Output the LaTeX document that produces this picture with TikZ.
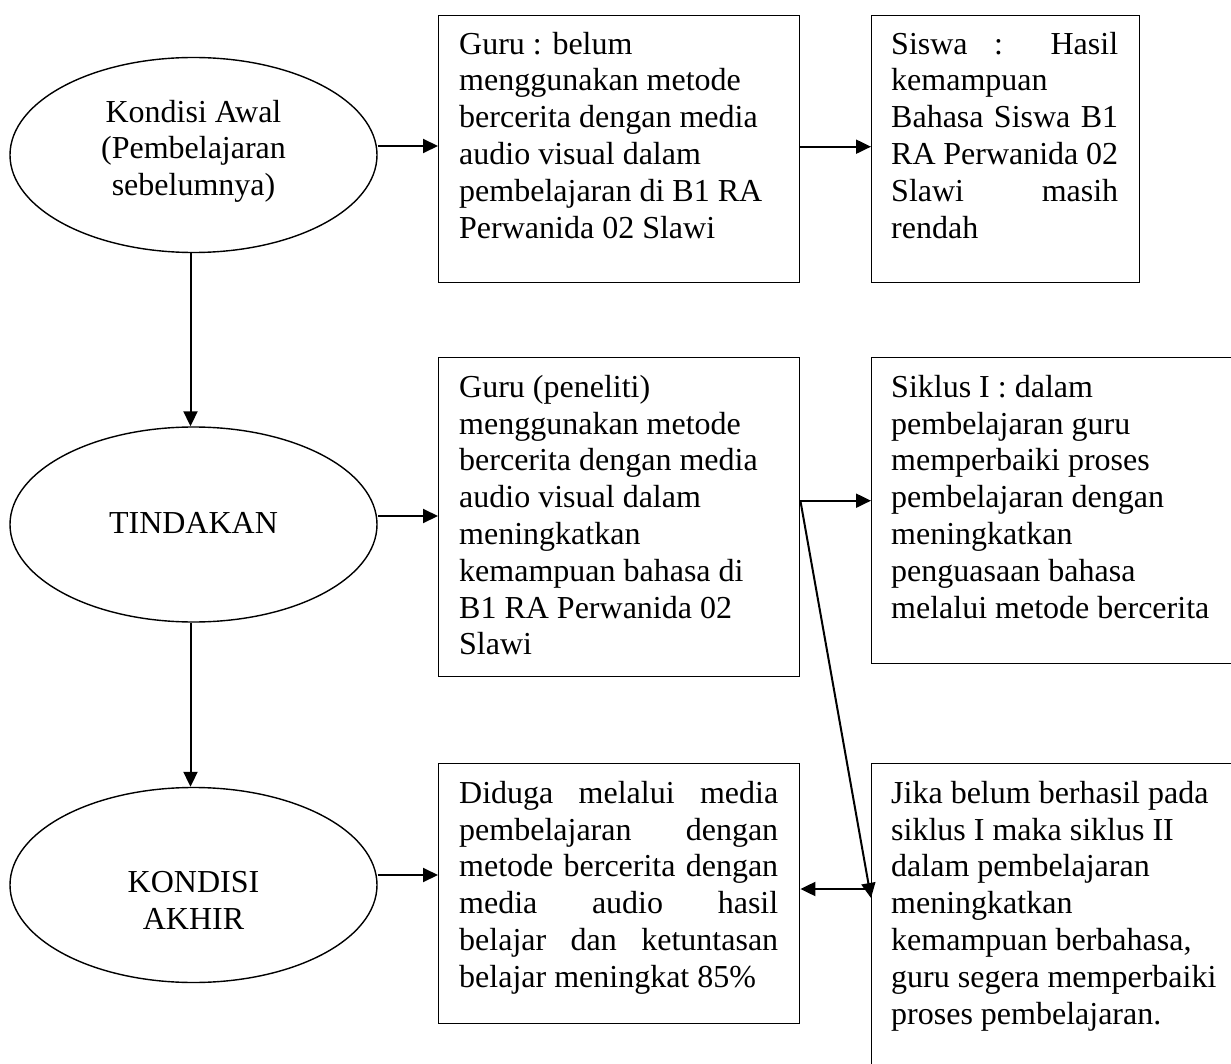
\documentclass[tikz,border=0pt]{standalone}
\usepackage{fontspec}
\setmainfont{Liberation Serif}
\usetikzlibrary{shapes.geometric,arrows.meta}
\newcommand{\jus}[2]{\makebox[#1][s]{#2}}
\newcommand{\fl}{\rule{0pt}{32pt}}
\begin{document}
\begin{tikzpicture}[x=1pt,y=-1pt,
  txt/.style={font=\fontsize{32}{36.8}\selectfont, inner sep=0pt, align=left, anchor=north west},
  ctxt/.style={font=\fontsize{32}{36.8}\selectfont, inner sep=0pt, align=center, anchor=north},
  oval/.style={draw, ellipse, line width=1.4pt, minimum width=367pt, minimum height=195pt, inner sep=0pt},
  boxn/.style={draw, rectangle, line width=1.4pt, anchor=north west, inner sep=0pt},
  arr/.style={line width=2pt, -{Triangle[length=15pt,width=14pt]}}]
\useasboundingbox (0,0) rectangle (1231,1064);
\clip (0,0) rectangle (1231,1064);
\fill[white] (0,0) rectangle (1231,1064);

% ellipses
\node[oval] (e1) at (193.5,155) {};
\node[oval] (e2) at (193.5,524.5) {};
\node[oval] (e3) at (193.5,885) {};
\node[ctxt] (te1) at (193.5,90) {\fl Kondisi Awal\\(Pembelajaran\\sebelumnya)};
\node[ctxt] (te2) at (193.5,501) {\fl TINDAKAN};
\node[ctxt] (te3) at (193.5,860) {\fl KONDISI\\AKHIR};

% boxes
\node[boxn, minimum width=361pt, minimum height=267pt] (b1) at (438,15) {};
\node[boxn, minimum width=268pt, minimum height=267pt] (b3) at (871,15) {};
\node[boxn, minimum width=361pt, minimum height=319pt] (b2) at (438,357) {};
\node[boxn, minimum width=420pt, minimum height=306pt] (b6) at (871,357) {};
\node[boxn, minimum width=361pt, minimum height=260pt] (b4) at (438,763) {};
\node[boxn, minimum width=420pt, minimum height=400pt] (b5) at (871,763) {};

% box texts
\node[txt] (t1) at (459,22) {\fl Guru : belum\\menggunakan metode\\bercerita dengan media\\audio visual dalam\\pembelajaran di B1 RA\\Perwanida 02 Slawi};
\node[txt] (t3) at (891,22) {\fl\jus{227pt}{Siswa : Hasil}\\kemampuan\\\jus{227pt}{Bahasa Siswa B1}\\\jus{227pt}{RA Perwanida 02}\\\jus{227pt}{Slawi masih}\\rendah};
\node[txt] (t2) at (459,365) {\fl Guru (peneliti)\\menggunakan metode\\bercerita dengan media\\audio visual dalam\\meningkatkan\\kemampuan bahasa di\\B1 RA Perwanida 02\\Slawi};
\node[txt] (t6) at (891,365) {\fl Siklus I : dalam\\pembelajaran guru\\memperbaiki proses\\pembelajaran dengan\\meningkatkan\\penguasaan bahasa\\melalui metode bercerita};
\node[txt] (t4) at (459,771) {\fl\jus{319pt}{Diduga melalui media}\\\jus{319pt}{pembelajaran dengan}\\\jus{319pt}{metode bercerita dengan}\\\jus{319pt}{media audio hasil}\\\jus{319pt}{belajar dan ketuntasan}\\belajar meningkat 85\%};
\node[txt] (t5) at (891,771) {\fl Jika belum berhasil pada\\siklus I maka siklus II\\dalam pembelajaran\\meningkatkan\\kemampuan berbahasa,\\guru segera memperbaiki\\proses pembelajaran.};

% connectors
\draw[arr] ([yshift=9pt]e1.east) -- ([yshift=9pt]e1.east -| b1.west);
\draw[arr] ([xshift=-3pt]e1.south) -- ([xshift=-3pt]e2.north);
\draw[arr] ([yshift=8.5pt]e2.east) -- ([yshift=8.5pt]e2.east -| b2.west);
\draw[arr] ([xshift=-3pt]e2.south) -- ([xshift=-3pt]e3.north);
\draw[arr] ([yshift=10pt]e3.east) -- ([yshift=10pt]e3.east -| b4.west);
\draw[arr] ([yshift=2.5pt]b1.east) -- ([yshift=2.5pt]b1.east -| b3.west);
\coordinate (split) at ([yshift=16.5pt]b2.east);
\coordinate (hit) at ([yshift=-135pt]b5.north west);
\coordinate (back) at ([yshift=-126pt]b5.north west);
\draw[arr] (split) -- (split -| b6.west);
\draw[arr] (split) -- (hit);
\draw[arr] (back) -- (back -| b4.east);
\end{tikzpicture}
\end{document}
